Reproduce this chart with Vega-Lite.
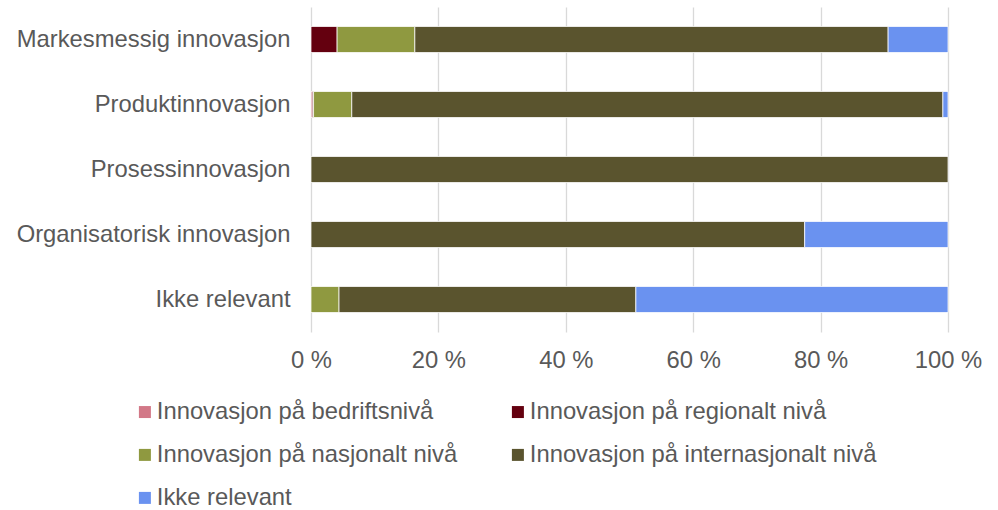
{
  "$schema": "https://vega.github.io/schema/vega-lite/v6.json",
  "autosize": "none",
  "width": 637,
  "height": 325,
  "padding": {"left": 311, "top": 7, "right": 50, "bottom": 178},
  "background": "white",
  "config": {
    "font": "Liberation Sans",
    "view": {"stroke": null}
  },
  "data": {
    "values": [
      {"kategori": "Markesmessig innovasjon", "serie": "Innovasjon på regionalt nivå", "rekke": 2, "andel": 4.1},
      {"kategori": "Markesmessig innovasjon", "serie": "Innovasjon på nasjonalt nivå", "rekke": 3, "andel": 12.2},
      {"kategori": "Markesmessig innovasjon", "serie": "Innovasjon på internasjonalt nivå", "rekke": 4, "andel": 74.3},
      {"kategori": "Markesmessig innovasjon", "serie": "Ikke relevant", "rekke": 5, "andel": 9.4},
      {"kategori": "Produktinnovasjon", "serie": "Innovasjon på bedriftsnivå", "rekke": 1, "andel": 0.2},
      {"kategori": "Produktinnovasjon", "serie": "Innovasjon på regionalt nivå", "rekke": 2, "andel": 0.2},
      {"kategori": "Produktinnovasjon", "serie": "Innovasjon på nasjonalt nivå", "rekke": 3, "andel": 6.0},
      {"kategori": "Produktinnovasjon", "serie": "Innovasjon på internasjonalt nivå", "rekke": 4, "andel": 92.8},
      {"kategori": "Produktinnovasjon", "serie": "Ikke relevant", "rekke": 5, "andel": 0.8},
      {"kategori": "Prosessinnovasjon", "serie": "Innovasjon på internasjonalt nivå", "rekke": 4, "andel": 100},
      {"kategori": "Organisatorisk innovasjon", "serie": "Innovasjon på internasjonalt nivå", "rekke": 4, "andel": 77.5},
      {"kategori": "Organisatorisk innovasjon", "serie": "Ikke relevant", "rekke": 5, "andel": 22.5},
      {"kategori": "Ikke relevant", "serie": "Innovasjon på nasjonalt nivå", "rekke": 3, "andel": 4.4},
      {"kategori": "Ikke relevant", "serie": "Innovasjon på internasjonalt nivå", "rekke": 4, "andel": 46.6},
      {"kategori": "Ikke relevant", "serie": "Ikke relevant", "rekke": 5, "andel": 49.0}
    ]
  },
  "mark": {"type": "bar", "stroke": "#ffffff", "strokeWidth": 0.75},
  "encoding": {
    "y": {
      "field": "kategori",
      "type": "nominal",
      "sort": ["Markesmessig innovasjon", "Produktinnovasjon", "Prosessinnovasjon", "Organisatorisk innovasjon", "Ikke relevant"],
      "scale": {"paddingInner": 0.6, "paddingOuter": 0.3},
      "axis": {
        "title": null,
        "domain": false,
        "ticks": false,
        "labelFontSize": 23.8,
        "labelColor": "#595959",
        "labelPadding": 21,
        "labelLimit": 400,
        "labelFont": "Liberation Sans"
      }
    },
    "x": {
      "field": "andel",
      "type": "quantitative",
      "stack": "normalize",
      "scale": {"domain": [0, 1], "nice": false},
      "axis": {
        "title": null,
        "values": [0, 0.2, 0.4, 0.6, 0.8, 1],
        "labelExpr": "format(datum.value * 100, 'd') + ' %'",
        "labelFlush": false,
        "labelOverlap": false,
        "domain": false,
        "ticks": false,
        "grid": true,
        "gridColor": "#D9D9D9",
        "gridWidth": 1.3,
        "labelFontSize": 23.8,
        "labelColor": "#595959",
        "labelPadding": 16,
        "labelFont": "Liberation Sans"
      }
    },
    "color": {
      "field": "serie",
      "type": "nominal",
      "scale": {
        "domain": ["Innovasjon på bedriftsnivå", "Innovasjon på regionalt nivå", "Innovasjon på nasjonalt nivå", "Innovasjon på internasjonalt nivå", "Ikke relevant"],
        "range": ["#D27887", "#64000F", "#8F9940", "#5A542E", "#6A92F0"]
      },
      "legend": {
        "title": null,
        "orient": "none",
        "legendX": -178,
        "legendY": 393,
        "direction": "horizontal",
        "columns": 2,
        "columnPadding": 48,
        "rowPadding": 18,
        "padding": 0,
        "symbolType": "square",
        "symbolSize": 144,
        "symbolStrokeWidth": 0,
        "labelFontSize": 23.8,
        "labelColor": "#595959",
        "labelOffset": 0,
        "labelFont": "Liberation Sans",
        "labelLimit": 500
      }
    },
    "order": {"field": "rekke", "type": "quantitative"}
  }
}
